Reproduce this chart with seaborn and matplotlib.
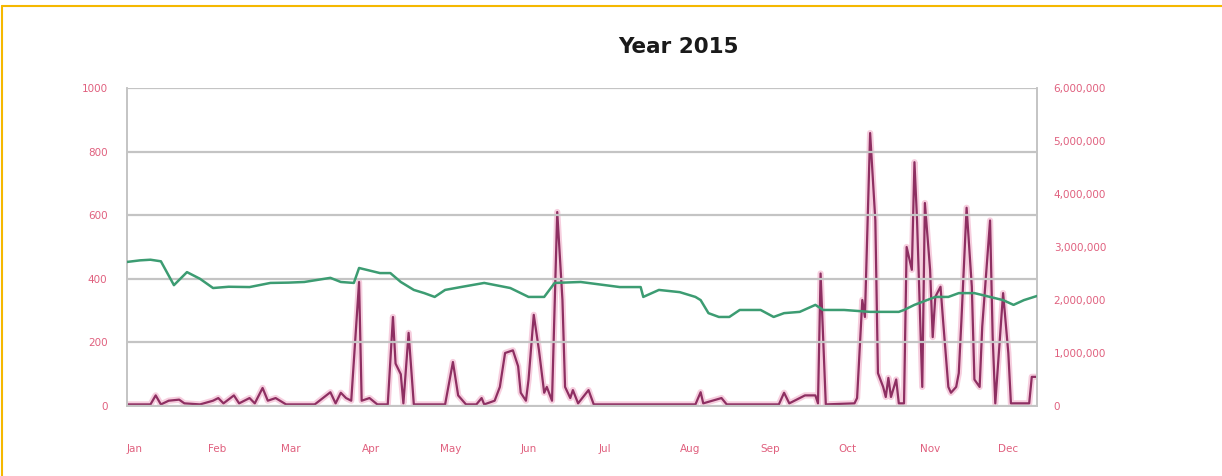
import numpy as np
import pandas as pd
import matplotlib
matplotlib.use("Agg")
import matplotlib.pyplot as plt
import matplotlib.ticker as mticker
from matplotlib.lines import Line2D
import seaborn as sns

# ---- data (day offsets from 2015-01-01) ----
green_days = [0, 5, 9, 13, 18, 23, 28, 33, 39, 47, 55, 62, 68, 78, 82, 87, 89, 97, 101, 105,
              110, 114, 118, 122, 128, 137, 147, 154, 160, 164, 174, 189, 197, 198, 204, 212,
              218, 220, 223, 227, 231, 235, 243, 248, 252, 258, 264, 267, 275, 285, 296, 298,
              302, 310, 315, 319, 325, 331, 336, 340, 344, 349]
green_vals = [453, 458, 460, 455, 380, 421, 400, 371, 375, 374, 387, 388, 390, 403, 390, 387,
              434, 418, 418, 390, 365, 355, 343, 365, 374, 387, 371, 343, 343, 387, 390, 374,
              374, 343, 365, 358, 343, 333, 292, 280, 280, 302, 302, 280, 292, 296, 318, 302,
              302, 296, 296, 302, 318, 343, 343, 355, 355, 343, 333, 318, 333, 346]

purple_days = [0, 9, 11, 13, 16, 20, 22, 28, 33, 35, 37, 41, 43, 47, 49, 52, 54, 57, 61, 66,
               72, 78, 80, 82, 84, 86, 89, 90, 93, 96, 100, 102, 103, 105, 106, 108, 110, 122,
               125, 127, 130, 134, 136, 137, 141, 143, 145, 148, 150, 151, 153, 154, 156, 158,
               160, 161, 163, 165, 167, 168, 170, 171, 173, 177, 179, 218, 220, 221, 228, 230,
               250, 252, 254, 260, 264, 265, 266, 268, 279, 280, 282, 283, 285, 287, 288, 290,
               291, 292, 293, 295, 296, 298, 299, 301, 302, 303, 305, 306, 308, 309, 310, 312,
               313, 315, 316, 318, 319, 320, 322, 324, 325, 327, 328, 331, 332, 333, 336, 338,
               339, 346, 347, 349]
purple_vals_m = [0.03, 0.03, 0.2, 0.03, 0.1, 0.12, 0.05, 0.03, 0.1, 0.15, 0.05, 0.2, 0.05, 0.15,
                 0.05, 0.34, 0.1, 0.15, 0.03, 0.03, 0.03, 0.26, 0.05, 0.25, 0.15, 0.1, 2.34, 0.1,
                 0.15, 0.03, 0.03, 1.68, 0.8, 0.6, 0.05, 1.38, 0.03, 0.03, 0.83, 0.2, 0.03, 0.03,
                 0.15, 0.03, 0.1, 0.36, 1.0, 1.05, 0.75, 0.25, 0.1, 0.5, 1.72, 1.05, 0.25, 0.36,
                 0.1, 3.66, 2.0, 0.36, 0.15, 0.3, 0.05, 0.3, 0.03, 0.03, 0.26, 0.05, 0.15, 0.03,
                 0.03, 0.25, 0.05, 0.2, 0.2, 0.05, 2.5, 0.03, 0.05, 0.15, 2.0, 1.68, 5.15, 3.5,
                 0.62, 0.36, 0.17, 0.53, 0.17, 0.5, 0.05, 0.05, 3.0, 2.57, 4.6, 3.5, 0.36, 3.83,
                 2.57, 1.3, 2.06, 2.25, 1.6, 0.36, 0.25, 0.36, 0.62, 1.6, 3.74, 2.25, 0.5, 0.36,
                 1.5, 3.5, 1.3, 0.05, 2.13, 1.0, 0.05, 0.05, 0.55, 0.55]

month_labels = ["Jan", "Feb", "Mar", "Apr", "May", "Jun", "Jul", "Aug", "Sep", "Oct", "Nov", "Dec"]
left_ticks = [0, 200, 400, 600, 800, 1000]
right_ticks = [0, 1000000, 2000000, 3000000, 4000000, 5000000, 6000000]
title = "Year 2015"

start = pd.Timestamp("2015-01-01")
green_df = pd.DataFrame({"date": start + pd.to_timedelta(green_days, unit="D"), "value": green_vals})
purple_df = pd.DataFrame({"date": start + pd.to_timedelta(purple_days, unit="D"),
                          "value": np.array(purple_vals_m) * 1_000_000})

sns.set_style("white")
plt.rcParams["font.family"] = ["DejaVu Sans"]

fig = plt.figure(figsize=(12.22, 4.76), dpi=100)
ax = fig.add_axes([127 / 1222, 70 / 476, 910 / 1222, 318 / 476])
ax2 = ax.twinx()

tick_color = "#e0607e"
grid_color = "#c4c4c4"
green = "#3c9c72"
purple = "#8e2f62"

sns.lineplot(data=green_df, x="date", y="value", ax=ax, color=green, linewidth=1.8, zorder=3)
sns.lineplot(data=purple_df, x="date", y="value", ax=ax2, color="#f0a6c4", linewidth=4.5, alpha=0.55)
sns.lineplot(data=purple_df, x="date", y="value", ax=ax2, color=purple, linewidth=1.6)

ax.set_zorder(ax2.get_zorder() + 1)
ax.patch.set_visible(False)

ax.set_ylim(0, 1000)
ax2.set_ylim(0, 6000000)
ax.set_xlim(start, start + pd.Timedelta(days=349))

ax.set_yticks(left_ticks)
ax.set_yticklabels([str(v) for v in left_ticks])
ax2.set_yticks(right_ticks)
ax2.yaxis.set_major_formatter(mticker.FuncFormatter(lambda v, p: f"{int(v):,}"))

month_starts = pd.date_range("2015-01-01", periods=12, freq="MS")
ax.set_xticks(month_starts)
ax.set_xticklabels(month_labels, ha="left")

ax.grid(axis="y", color=grid_color, linewidth=1.6)
ax.grid(axis="x", visible=False)
ax2.grid(False)

for a in (ax, ax2):
    a.set_xlabel("")
    a.set_ylabel("")
    for s in a.spines.values():
        s.set_color(grid_color)
        s.set_linewidth(1.2)
    a.spines["top"].set_visible(False)

ax.tick_params(axis="y", colors=tick_color, labelsize=7.5, length=0, pad=14)
ax.tick_params(axis="x", colors=tick_color, labelsize=7.5, length=0, pad=27)
ax2.tick_params(axis="y", colors=tick_color, labelsize=7.5, length=0, pad=12)
if ax2.get_legend():
    ax2.get_legend().remove()

fig.text(678 / 1222, 1 - 47 / 476, title, ha="center", va="center",
         fontsize=15.5, fontweight="bold", color="#1a1a1a")

# gold frame
fig.add_artist(Line2D([2 / 1222, 1.0], [1 - 6 / 476, 1 - 6 / 476], transform=fig.transFigure,
                      color="#f5b800", linewidth=1.5))
fig.add_artist(Line2D([2 / 1222, 2 / 1222], [0, 1 - 6 / 476], transform=fig.transFigure,
                      color="#f5b800", linewidth=1.5))

fig.savefig("out.png", dpi=100)
